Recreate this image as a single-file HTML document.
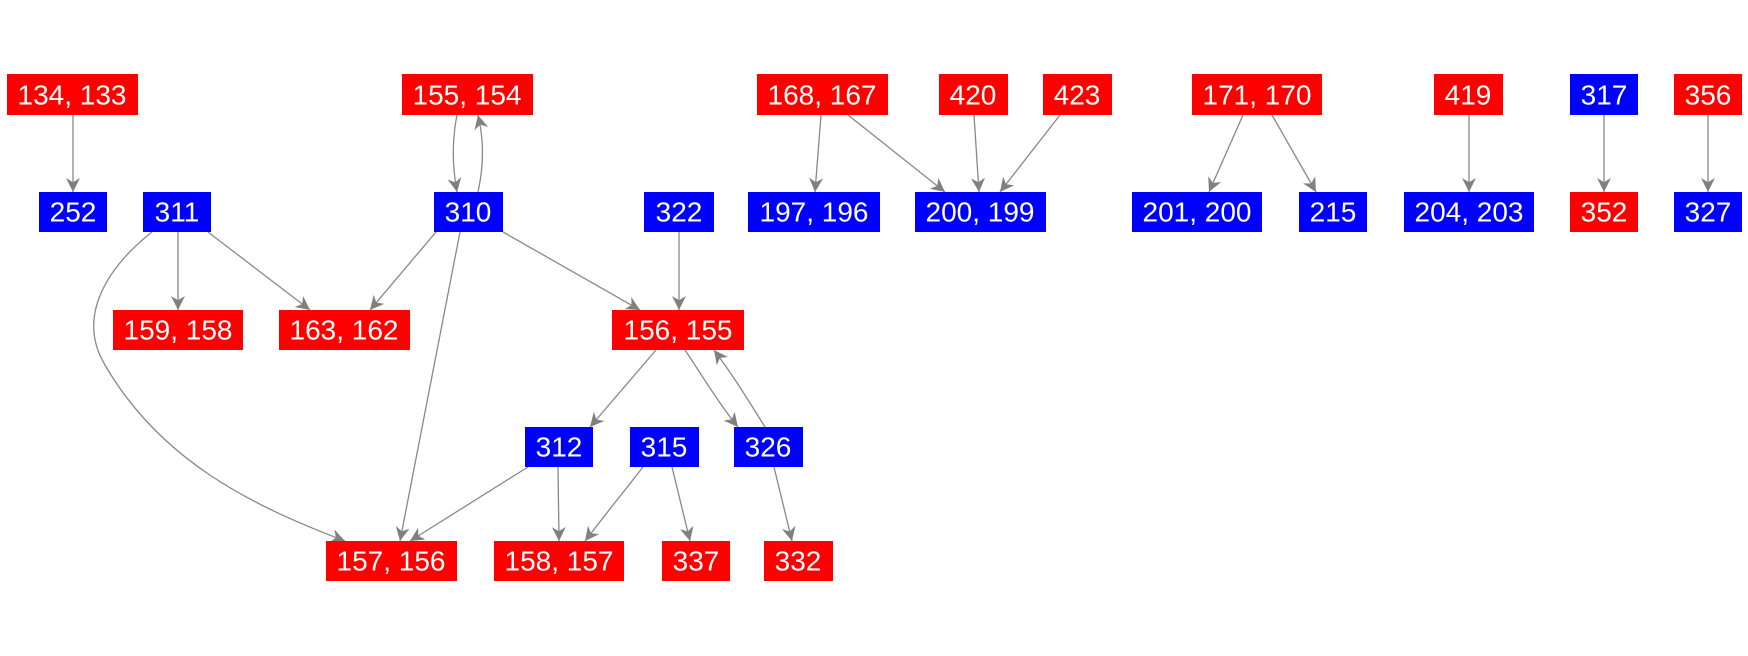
<!DOCTYPE html>
<html><head><meta charset="utf-8"><style>
body{margin:0;background:#fff;}
svg{display:block}
text{font-family:"Liberation Sans",Arial,sans-serif;font-size:28px;fill:#fff;text-anchor:middle;dominant-baseline:central}
path{fill:none;stroke:#888;stroke-width:1.3}
</style></head><body>
<svg width="1748" height="656" viewBox="0 0 1748 656">
<defs><marker id="a" viewBox="0 0 10 10" refX="10" refY="5" markerWidth="14" markerHeight="14" markerUnits="userSpaceOnUse" orient="auto"><path d="M0,0 L10,5 L0,10 L3,5 z" style="fill:#808080;stroke:none"/></marker></defs>
<g marker-end="url(#a)">
<path d="M73,115 L73,192"/>
<path d="M457,115 C452,140 452,165 457,192"/>
<path d="M478,192 C484,165 484,140 478,115"/>
<path d="M821,115 L815,192"/>
<path d="M848,115 L945,192"/>
<path d="M974,115 L979,192"/>
<path d="M1060,115 L1000,192"/>
<path d="M1243,115 L1209,192"/>
<path d="M1272,115 L1316,192"/>
<path d="M1469,115 L1469,192"/>
<path d="M1604,115 L1604,192"/>
<path d="M1708,115 L1708,192"/>
<path d="M178,232 L178,310"/>
<path d="M208,232 L310,310"/>
<path d="M152,232 C110,265 75,315 105,365 C160,460 250,505 345,541"/>
<path d="M436,232 L370,310"/>
<path d="M503,232 L640,310"/>
<path d="M460,232 L400,541"/>
<path d="M679,232 L679,310"/>
<path d="M656,350 L590,427"/>
<path d="M685,350 C705,380 720,405 738,427"/>
<path d="M765,427 C748,400 735,378 714,350"/>
<path d="M528,467 L410,541"/>
<path d="M558,467 L559,541"/>
<path d="M643,467 C625,490 605,515 585,541"/>
<path d="M672,467 L690,541"/>
<path d="M774,467 L792,541"/>
</g>
<g>
<rect x="7" y="74" width="131" height="41" fill="#f00"/><text x="72" y="95">134, 133</text>
<rect x="402" y="74" width="131" height="41" fill="#f00"/><text x="467" y="95">155, 154</text>
<rect x="757" y="74" width="131" height="41" fill="#f00"/><text x="822" y="95">168, 167</text>
<rect x="939" y="74" width="69" height="41" fill="#f00"/><text x="973" y="95">420</text>
<rect x="1043" y="74" width="69" height="41" fill="#f00"/><text x="1077" y="95">423</text>
<rect x="1192" y="74" width="130" height="41" fill="#f00"/><text x="1257" y="95">171, 170</text>
<rect x="1434" y="74" width="69" height="41" fill="#f00"/><text x="1468" y="95">419</text>
<rect x="1570" y="74" width="68" height="41" fill="#00f"/><text x="1604" y="95">317</text>
<rect x="1674" y="74" width="68" height="41" fill="#f00"/><text x="1708" y="95">356</text>

<rect x="39" y="192" width="68" height="40" fill="#00f"/><text x="73" y="212">252</text>
<rect x="143" y="192" width="68" height="40" fill="#00f"/><text x="177" y="212">311</text>
<rect x="434" y="192" width="69" height="40" fill="#00f"/><text x="468" y="212">310</text>
<rect x="644" y="192" width="70" height="40" fill="#00f"/><text x="679" y="212">322</text>
<rect x="748" y="192" width="132" height="40" fill="#00f"/><text x="814" y="212">197, 196</text>
<rect x="915" y="192" width="131" height="40" fill="#00f"/><text x="980" y="212">200, 199</text>
<rect x="1132" y="192" width="130" height="40" fill="#00f"/><text x="1197" y="212">201, 200</text>
<rect x="1299" y="192" width="68" height="40" fill="#00f"/><text x="1333" y="212">215</text>
<rect x="1404" y="192" width="130" height="40" fill="#00f"/><text x="1469" y="212">204, 203</text>
<rect x="1570" y="192" width="68" height="40" fill="#f00"/><text x="1604" y="212">352</text>
<rect x="1674" y="192" width="68" height="40" fill="#00f"/><text x="1708" y="212">327</text>

<rect x="113" y="310" width="130" height="40" fill="#f00"/><text x="178" y="330">159, 158</text>
<rect x="279" y="310" width="131" height="40" fill="#f00"/><text x="344" y="330">163, 162</text>
<rect x="612" y="310" width="132" height="40" fill="#f00"/><text x="678" y="330">156, 155</text>

<rect x="525" y="427" width="68" height="40" fill="#00f"/><text x="559" y="447">312</text>
<rect x="630" y="427" width="69" height="40" fill="#00f"/><text x="664" y="447">315</text>
<rect x="734" y="427" width="69" height="40" fill="#00f"/><text x="768" y="447">326</text>

<rect x="326" y="541" width="131" height="40" fill="#f00"/><text x="391" y="561">157, 156</text>
<rect x="494" y="541" width="130" height="40" fill="#f00"/><text x="559" y="561">158, 157</text>
<rect x="662" y="541" width="68" height="40" fill="#f00"/><text x="696" y="561">337</text>
<rect x="764" y="541" width="69" height="40" fill="#f00"/><text x="798" y="561">332</text>
</g>
</svg>
</body></html>
